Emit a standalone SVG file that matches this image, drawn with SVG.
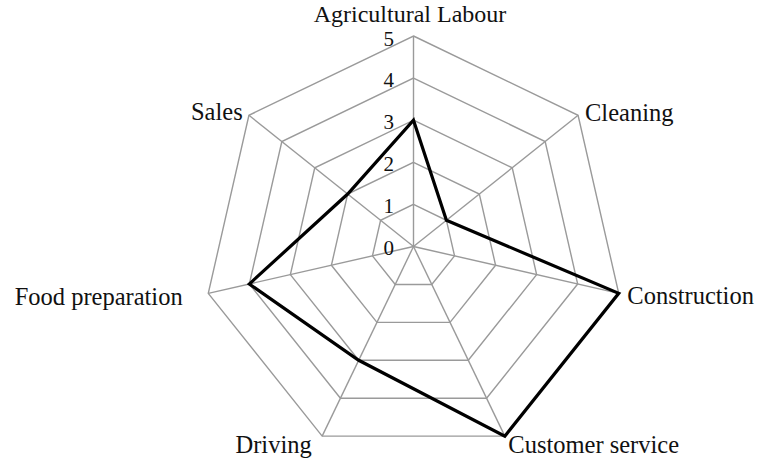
<svg xmlns="http://www.w3.org/2000/svg" width="758" height="459" viewBox="0 0 758 459">
<style>
.grid{fill:none;stroke:#9a9a9a;stroke-width:1.4;stroke-linejoin:miter}
.spoke{stroke:#9a9a9a;stroke-width:1.4}
.series{fill:none;stroke:#000;stroke-width:3.2;stroke-linejoin:miter}
.lbl{font-family:"Liberation Serif","Times New Roman",serif;font-size:24.5px;fill:#111}
.tick{font-family:"Liberation Serif","Times New Roman",serif;font-size:21px;fill:#111;text-anchor:end}
</style>
<rect width="758" height="459" fill="#fff"/>
<g id="grid">
<polygon class="grid" points="413.5,204.4 446.41,220.25 454.54,255.87 431.77,284.43 395.23,284.43 372.46,255.87 380.59,220.25"/>
<polygon class="grid" points="413.5,162.3 479.33,194 495.59,265.24 450.03,322.36 376.97,322.36 331.41,265.24 347.67,194"/>
<polygon class="grid" points="413.5,120.2 512.24,167.75 536.63,274.6 468.3,360.29 358.7,360.29 290.37,274.6 314.76,167.75"/>
<polygon class="grid" points="413.5,78.1 545.16,141.5 577.68,283.97 486.57,398.22 340.43,398.22 249.32,283.97 281.84,141.5"/>
<polygon class="grid" points="413.5,36 578.08,115.26 618.72,293.34 504.83,436.15 322.17,436.15 208.28,293.34 248.92,115.26"/>
</g>
<g id="connectors">
<line class="spoke" x1="413.5" y1="246.5" x2="413.5" y2="36"/>
<line class="spoke" x1="413.5" y1="246.5" x2="578.08" y2="115.26"/>
<line class="spoke" x1="413.5" y1="246.5" x2="618.72" y2="293.34"/>
<line class="spoke" x1="413.5" y1="246.5" x2="504.83" y2="436.15"/>
<line class="spoke" x1="413.5" y1="246.5" x2="322.17" y2="436.15"/>
<line class="spoke" x1="413.5" y1="246.5" x2="208.28" y2="293.34"/>
<line class="spoke" x1="413.5" y1="246.5" x2="248.92" y2="115.26"/>
</g>
<g id="ticks">
<text class="tick" x="394" y="255.3">0</text>
<text class="tick" x="394" y="213.2">1</text>
<text class="tick" x="394" y="171.1">2</text>
<text class="tick" x="394" y="129">3</text>
<text class="tick" x="394" y="86.9">4</text>
<text class="tick" x="394" y="45.6">5</text>
</g>
<g id="series">
<polygon class="series" points="413.5,120.2 446.41,220.25 618.72,293.34 504.83,436.15 358.7,360.29 249.32,283.97 347.67,194"/>
</g>
<g id="axis-agricultural-labour"><text class="lbl" x="410" y="21.5" text-anchor="middle" style="font-size:24px">Agricultural Labour</text></g>
<g id="axis-cleaning"><text class="lbl" x="585" y="121">Cleaning</text></g>
<g id="axis-construction"><text class="lbl" x="627.3" y="304.3">Construction</text></g>
<g id="axis-customer-service"><text class="lbl" x="508.3" y="453.3">Customer service</text></g>
<g id="axis-driving"><text class="lbl" x="311.7" y="453.3" text-anchor="end">Driving</text></g>
<g id="axis-food-preparation"><text class="lbl" x="182.7" y="305" text-anchor="end">Food preparation</text></g>
<g id="axis-sales"><text class="lbl" x="242.7" y="120" text-anchor="end">Sales</text></g>
</svg>
